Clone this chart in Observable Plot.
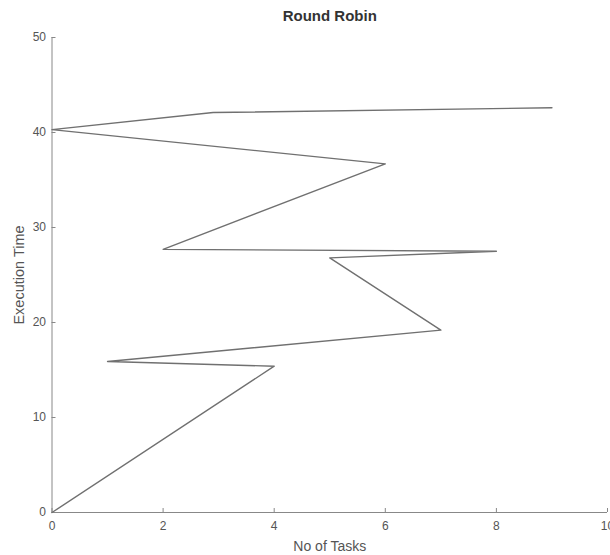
<!DOCTYPE html>
<html>
<head>
<meta charset="utf-8">
<script src="https://cdn.jsdelivr.net/npm/d3@7"></script>
<script src="https://cdn.jsdelivr.net/npm/@observablehq/plot@0.6"></script>
<style>
  html, body { margin: 0; padding: 0; background: #fff; overflow: hidden; }
  #chart svg { display: block; }
</style>
</head>
<body>
<div id="chart"></div>
<script>
// Data (in drawing order)
const tasks = [0, 4, 1, 7, 5, 8, 2, 6, 0, 2.9, 9];
const times = [0, 15.4, 15.9, 19.2, 26.8, 27.5, 27.7, 36.7, 40.3, 42.1, 42.6];
const xTicks = [0, 2, 4, 6, 8, 10];
const yTicks = [0, 10, 20, 30, 40, 50];
const titleText = "Round Robin";
const xLabel = "No of Tasks";
const yLabel = "Execution Time";

const data = tasks.map((t, i) => ({tasks: t, time: times[i]}));

const W = 610, H = 555;
const mL = 51.5, mR = 3, mT = 37, mB = 43;
const frameW = W - mL - mR, frameH = H - mT - mB;
const font = "'Liberation Sans', Arial, Helvetica, sans-serif";

const chart = Plot.plot({
  width: W,
  height: H,
  marginLeft: mL,
  marginRight: mR,
  marginTop: mT,
  marginBottom: mB,
  style: {fontFamily: font, background: "#fff", color: "#555", overflow: "visible"},
  x: {domain: [0, 10]},
  y: {domain: [0, 50]},
  marks: [
    Plot.axisX({ticks: xTicks, tickSize: 0, tickPadding: 9, label: null, fontSize: 12, fill: "#555"}),
    Plot.axisY({ticks: yTicks, tickSize: 0, tickPadding: 6, label: null, fontSize: 12, fill: "#555"}),
    Plot.tickX(xTicks, {x: d => d, insetTop: frameH - 4, stroke: "#888"}),
    Plot.tickY(yTicks, {y: d => d, insetRight: frameW - 4, stroke: "#888"}),
    Plot.ruleX([0], {stroke: "#888"}),
    Plot.ruleY([0], {stroke: "#888"}),
    Plot.line(data, {x: "tasks", y: "time", stroke: "#707070", strokeWidth: 1.4}),
    Plot.text([titleText], {frameAnchor: "top", dy: -21, fontSize: 15, fontWeight: "bold", fill: "#333", textAnchor: "middle", lineAnchor: "middle"}),
    Plot.text([xLabel], {frameAnchor: "bottom", dy: 34, fontSize: 14, fill: "#555", textAnchor: "middle", lineAnchor: "middle"}),
    Plot.text([yLabel], {frameAnchor: "left", dx: -33, rotate: -90, fontSize: 14.5, fill: "#555", textAnchor: "middle", lineAnchor: "middle"})
  ]
});
document.getElementById("chart").appendChild(chart);
</script>
</body>
</html>
